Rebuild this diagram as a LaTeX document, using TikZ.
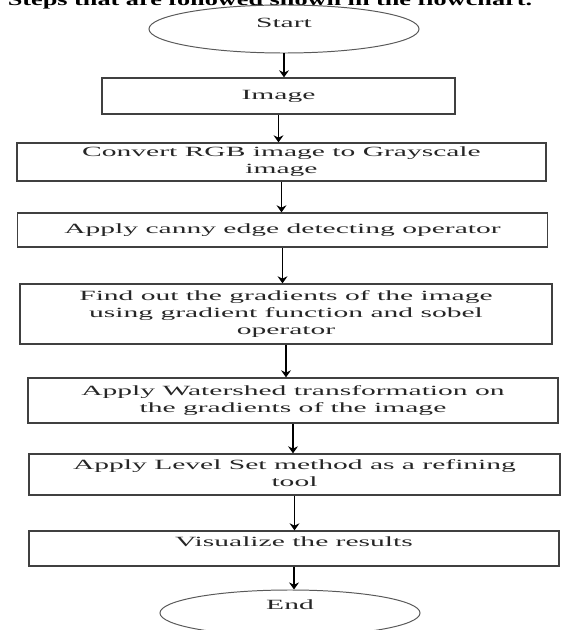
\documentclass[tikz,border=0pt]{standalone}
\usepackage{fontspec}
\setmainfont{Liberation Serif}
\usepackage{graphicx}
\usetikzlibrary{shapes.geometric, arrows.meta, positioning}
\tikzstyle{arrow} = [line width=0.9pt, ->, >={Stealth[length=5pt,width=7pt]}]
\newcommand{\wtxt}[1]{\scalebox{2.1}[1]{\begin{tabular}{@{}c@{}}#1\end{tabular}}}
\newcommand{\wtxtup}[2]{\smash{\raisebox{#1}{\wtxt{#2}}}}

\begin{document}
\begin{tikzpicture}[
		x=0.025cm, y=-0.025cm,
		term/.style={ellipse, draw=black!65, line width=0.7pt, inner sep=0pt, minimum width=#1, minimum height=1.2cm, font=\fontsize{10}{12}\selectfont, text=black!85},
		stepbox/.style={rectangle, draw=black!75, line width=0.9pt, inner sep=0pt, minimum width=#1, font=\fontsize{10}{12}\selectfont, text=black!85},
		stepbox/.default=13.25cm
		]
		\useasboundingbox (0,0) rectangle (562,630);
		\clip (0,0) rectangle (562,630);
		% heading (cut at the top)
		\node[anchor=base, inner sep=0pt, font=\bfseries\fontsize{12}{14}\selectfont] (title) at (270,6) {\resizebox{13.1cm}{\height}{Steps that are followed shown in the flowchart.}};
		% terminals
		\node[term=6.75cm] (start) at (284,29) {\wtxtup{1pt}{Start}};
		\node[term=6.5cm, minimum height=1.15cm] (end) at (290,613) {\wtxtup{2.3pt}{End}};
		% steps
		\node[stepbox=8.825cm, minimum height=0.9cm] (img) at (278.5,96) {\wtxt{Image}};
		\node[stepbox=13.225cm, minimum height=0.95cm] (conv) at (281.5,162) {\wtxt{Convert RGB image to Grayscale\\image}};
		\node[stepbox, minimum height=0.85cm] (canny) at (282.5,230) {\wtxt{Apply canny edge detecting operator}};
		\node[stepbox=13.3cm, minimum height=1.5cm] (grad) at (286,314) {\wtxt{Find out the gradients of the image\\using gradient function and sobel\\operator}};
		\node[stepbox, minimum height=1.125cm] (water) at (293,400.5) {\wtxt{Apply Watershed transformation on\\the gradients of the image}};
		\node[stepbox=13.275cm, minimum height=1.025cm] (level) at (294.5,474.5) {\wtxt{Apply Level Set method as a refining\\tool}};
		\node[stepbox, minimum height=0.875cm] (vis) at (294,548.5) {\wtxtup{1pt}{Visualize the results}};
		% arrows
		\draw[arrow] (start.south) -- (start.south |- img.north);
		\draw[arrow] (img.south) -- (img.south |- conv.north);
		\draw[arrow] (conv.south) -- (conv.south |- canny.north);
		\draw[arrow] (canny.south) -- (canny.south |- grad.north);
		\draw[arrow] (grad.south) -- (grad.south |- water.north);
		\draw[arrow] (water.south) -- (water.south |- level.north);
		\draw[arrow] (level.south) -- (level.south |- vis.north);
		\draw[arrow] (vis.south) -- (vis.south |- end.north);
\end{tikzpicture}
\end{document}
